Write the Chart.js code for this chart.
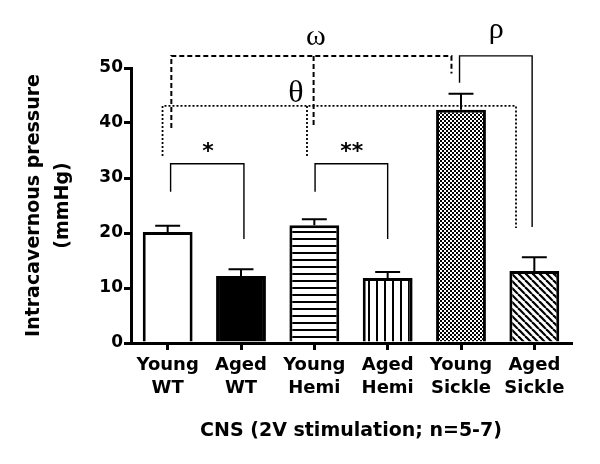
<!DOCTYPE html>
<html>
<head>
<meta charset="utf-8">
<script src="https://cdn.jsdelivr.net/npm/chart.js@4.4.0/dist/chart.umd.min.js"></script>
<style>
  html, body { margin: 0; padding: 0; background: #fff; }
  canvas { display: block; }
</style>
</head>
<body>
<canvas id="grafico" width="600" height="464"></canvas>
<script>
// --- data ---
const grupos = [['Young', 'WT'], ['Aged', 'WT'], ['Young', 'Hemi'], ['Aged', 'Hemi'], ['Young', 'Sickle'], ['Aged', 'Sickle']];
const medias = [20.2, 12.2, 21.4, 11.8, 42.4, 13.1];
const erros = [1.1, 1.2, 1.1, 1.1, 2.9, 2.5];
const ticksY = [0, 10, 20, 30, 40, 50];
const tituloY = ['Intracavernous pressure', '(mmHg)'];
const tituloX = 'CNS (2V stimulation; n=5-7)';

// significance brackets, in axis units (x = category index, y = mmHg)
const chaves = [
  { pts: [[0.04, 27.5], [0.04, 32.6], [1.04, 32.6], [1.04, 18.9]], dash: [], width: 1.4 },
  { pts: [[2.01, 27.5], [2.01, 32.6], [3.0, 32.6], [3.0, 18.9]], dash: [], width: 1.4 },
  { pts: [[0.05, 39.1], [0.05, 52.2], [3.87, 52.2], [3.87, 49.0]], dash: [5, 3], width: 2 },
  { pts: [[1.99, 52.2], [1.99, 39.1]], dash: [5, 3], width: 2 },
  { pts: [[-0.07, 34.0], [-0.07, 43.1], [4.75, 43.1], [4.75, 20.9]], dash: [2, 2], width: 1.8 },
  { pts: [[1.90, 43.1], [1.90, 34.0]], dash: [2, 2], width: 1.8 },
  { pts: [[3.98, 47.3], [3.98, 52.2], [4.97, 52.2], [4.97, 21.1]], dash: [], width: 1.4 }
];
const rotulos = [
  { text: '*', x: 0.55, y: 33.7, font: 'bold 22px "DejaVu Sans"' },
  { text: '**', x: 2.51, y: 33.7, font: 'bold 22px "DejaVu Sans"' },
  { text: 'ω', x: 2.02, y: 54.25, font: '30px "Liberation Serif"' },
  { text: 'θ', x: 1.75, y: 43.9, font: '32px "Liberation Serif"' },
  { text: 'ρ', x: 4.48, y: 55.5, font: '30px "Liberation Serif"' }
];

const canvas = document.getElementById('grafico');
const ctx = canvas.getContext('2d');

// --- fill patterns ---
function padrao(w, h, desenha) {
  const c = document.createElement('canvas');
  c.width = w; c.height = h;
  const g = c.getContext('2d');
  g.fillStyle = '#fff';
  g.fillRect(0, 0, w, h);
  g.fillStyle = '#000';
  g.strokeStyle = '#000';
  desenha(g, w, h);
  return ctx.createPattern(c, 'repeat');
}

const horizontal = padrao(1, 7, g => g.fillRect(0, 0, 1, 2));
const vertical = padrao(8, 1, g => g.fillRect(0, 0, 2, 1));
const xadrez = padrao(4, 4, g => { g.fillRect(0, 0, 2, 2); g.fillRect(2, 2, 2, 2); });
const diagonal = padrao(7, 7, (g, w) => {
  g.lineWidth = 2.2;
  [-w, 0, w].forEach(k => {
    g.beginPath();
    g.moveTo(k, 0);
    g.lineTo(k + w, w);
    g.stroke();
  });
});
const preenchimentos = ['#fff', '#000', horizontal, vertical, xadrez, diagonal];

// --- error bars, brackets and symbols ---
const anotacoes = {
  id: 'anotacoes',
  afterDatasetsDraw(chart) {
    const { ctx, scales: { x, y } } = chart;
    const meta = chart.getDatasetMeta(0);
    ctx.save();
    ctx.strokeStyle = '#000';
    ctx.fillStyle = '#000';

    ctx.lineWidth = 2;
    meta.data.forEach((bar, i) => {
      const topo = y.getPixelForValue(medias[i] + erros[i]);
      const meia = bar.width / 4;
      ctx.beginPath();
      ctx.moveTo(bar.x, bar.y);
      ctx.lineTo(bar.x, topo);
      ctx.moveTo(bar.x - meia, topo);
      ctx.lineTo(bar.x + meia, topo);
      ctx.stroke();
    });

    chaves.forEach(c => {
      ctx.setLineDash(c.dash);
      ctx.lineWidth = c.width;
      ctx.beginPath();
      c.pts.forEach(([px, py], k) => {
        const fx = x.getPixelForValue(px);
        const fy = y.getPixelForValue(py);
        if (k === 0) ctx.moveTo(fx, fy); else ctx.lineTo(fx, fy);
      });
      ctx.stroke();
    });
    ctx.setLineDash([]);

    ctx.textAlign = 'center';
    ctx.textBaseline = 'alphabetic';
    rotulos.forEach(r => {
      ctx.font = r.font;
      ctx.fillText(r.text, x.getPixelForValue(r.x), y.getPixelForValue(r.y));
    });
    ctx.restore();
  }
};

const fonte = { family: '"DejaVu Sans", sans-serif', weight: 'bold' };

new Chart(ctx, {
  type: 'bar',
  data: {
    labels: grupos,
    datasets: [{
      data: medias,
      backgroundColor: preenchimentos,
      borderColor: '#000',
      borderWidth: 3,
      borderSkipped: 'bottom',
      categoryPercentage: 1,
      barPercentage: 0.68
    }]
  },
  options: {
    responsive: false,
    animation: false,
    devicePixelRatio: 1,
    layout: { padding: { top: 68, right: 29, left: 0, bottom: 0 } },
    plugins: { legend: { display: false }, tooltip: { enabled: false } },
    scales: {
      x: {
        afterFit: s => { s.height = 121; },
        grid: { offset: false, drawOnChartArea: false, tickLength: 7, tickWidth: 3, tickColor: '#000', color: '#000', lineWidth: 3 },
        border: { display: true, width: 3, color: '#000' },
        ticks: { color: '#000', padding: 4, autoSkip: false, maxRotation: 0, font: { ...fonte, size: 18, lineHeight: 1.28 } },
        title: { display: true, text: tituloX, color: '#000', font: { ...fonte, size: 19, lineHeight: 1.2 }, padding: { top: 0, bottom: 22 } }
      },
      y: {
        min: 0,
        max: 50,
        afterFit: s => { s.width = 131; },
        afterBuildTicks: s => { s.ticks = ticksY.map(v => ({ value: v })); },
        grid: { drawOnChartArea: false, tickLength: 7, tickWidth: 3, tickColor: '#000', color: '#000', lineWidth: 3 },
        border: { display: true, width: 3, color: '#000' },
        ticks: { color: '#000', padding: 1, font: { ...fonte, size: 17 } },
        title: { display: true, text: tituloY, color: '#000', font: { ...fonte, size: 19, lineHeight: 1.5 }, padding: { top: 20, bottom: 0 } }
      }
    }
  },
  plugins: [anotacoes]
});
</script>
</body>
</html>
